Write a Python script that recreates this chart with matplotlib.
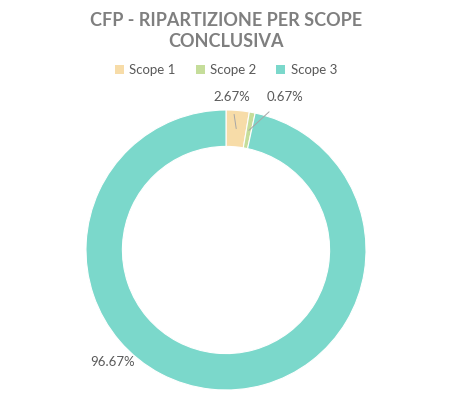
import numpy as np
import matplotlib.pyplot as plt

# CFP share by scope
categories = ["Scope 1", "Scope 2", "Scope 3"]
shares = [2.67, 0.67, 96.67]
colors = ["#F7DCA8", "#C5DD9A", "#7BD8CB"]

plt.rcParams['font.family'] = ['Lato', 'DejaVu Sans']

fig = plt.figure(figsize=(4.53, 4.2), dpi=100)
ax = fig.add_axes([86 / 453, 30 / 420, 280 / 453, 280 / 420])

wedges, _ = ax.pie(shares, colors=colors, startangle=90, counterclock=False,
                   radius=1.0, wedgeprops=dict(width=0.26, edgecolor="white", linewidth=0.8))

ax.set_xlim(-1, 1)
ax.set_ylim(-1, 1)
ax.set_aspect("equal")
ax.axis("off")

# label positions (text placement only)
label_pos = [(0.04, 1.09), (0.42, 1.09), (-0.81, -0.80)]
cum = np.cumsum([0] + shares[:-1])
for i, (s, pos) in enumerate(zip(shares, label_pos)):
    mid = 90 - (cum[i] + s / 2) / 100 * 360
    r = 0.87
    tip = (r * np.cos(np.radians(mid)), r * np.sin(np.radians(mid)))
    txt = f"{s:.2f}%"
    if i < 2:
        ax.annotate(txt, xy=tip, xytext=pos, ha="center", va="center",
                    fontsize=9.5, color="#595959",
                    arrowprops=dict(arrowstyle="-", color="#a6a6a6", lw=0.7,
                                    shrinkA=6, shrinkB=0))
    else:
        ax.text(pos[0], pos[1], txt, ha="center", va="center",
                fontsize=9.5, color="#595959")

fig.text(226 / 453, 1 - 31 / 420, "CFP - RIPARTIZIONE PER SCOPE\nCONCLUSIVA",
         ha="center", va="center", fontsize=13, fontweight="bold",
         color="#7f7f7f", linespacing=1.3)

handles = [plt.Rectangle((0, 0), 1, 1, facecolor=c, edgecolor="none") for c in colors]
fig.legend(handles, categories, loc="center", bbox_to_anchor=(226 / 453, 1 - 70 / 420),
           ncol=3, frameon=False, fontsize=9.5, handlelength=0.7, handleheight=0.7,
           handletextpad=0.4, columnspacing=1.5, labelcolor="#595959")

fig.savefig("out.png", dpi=100)
